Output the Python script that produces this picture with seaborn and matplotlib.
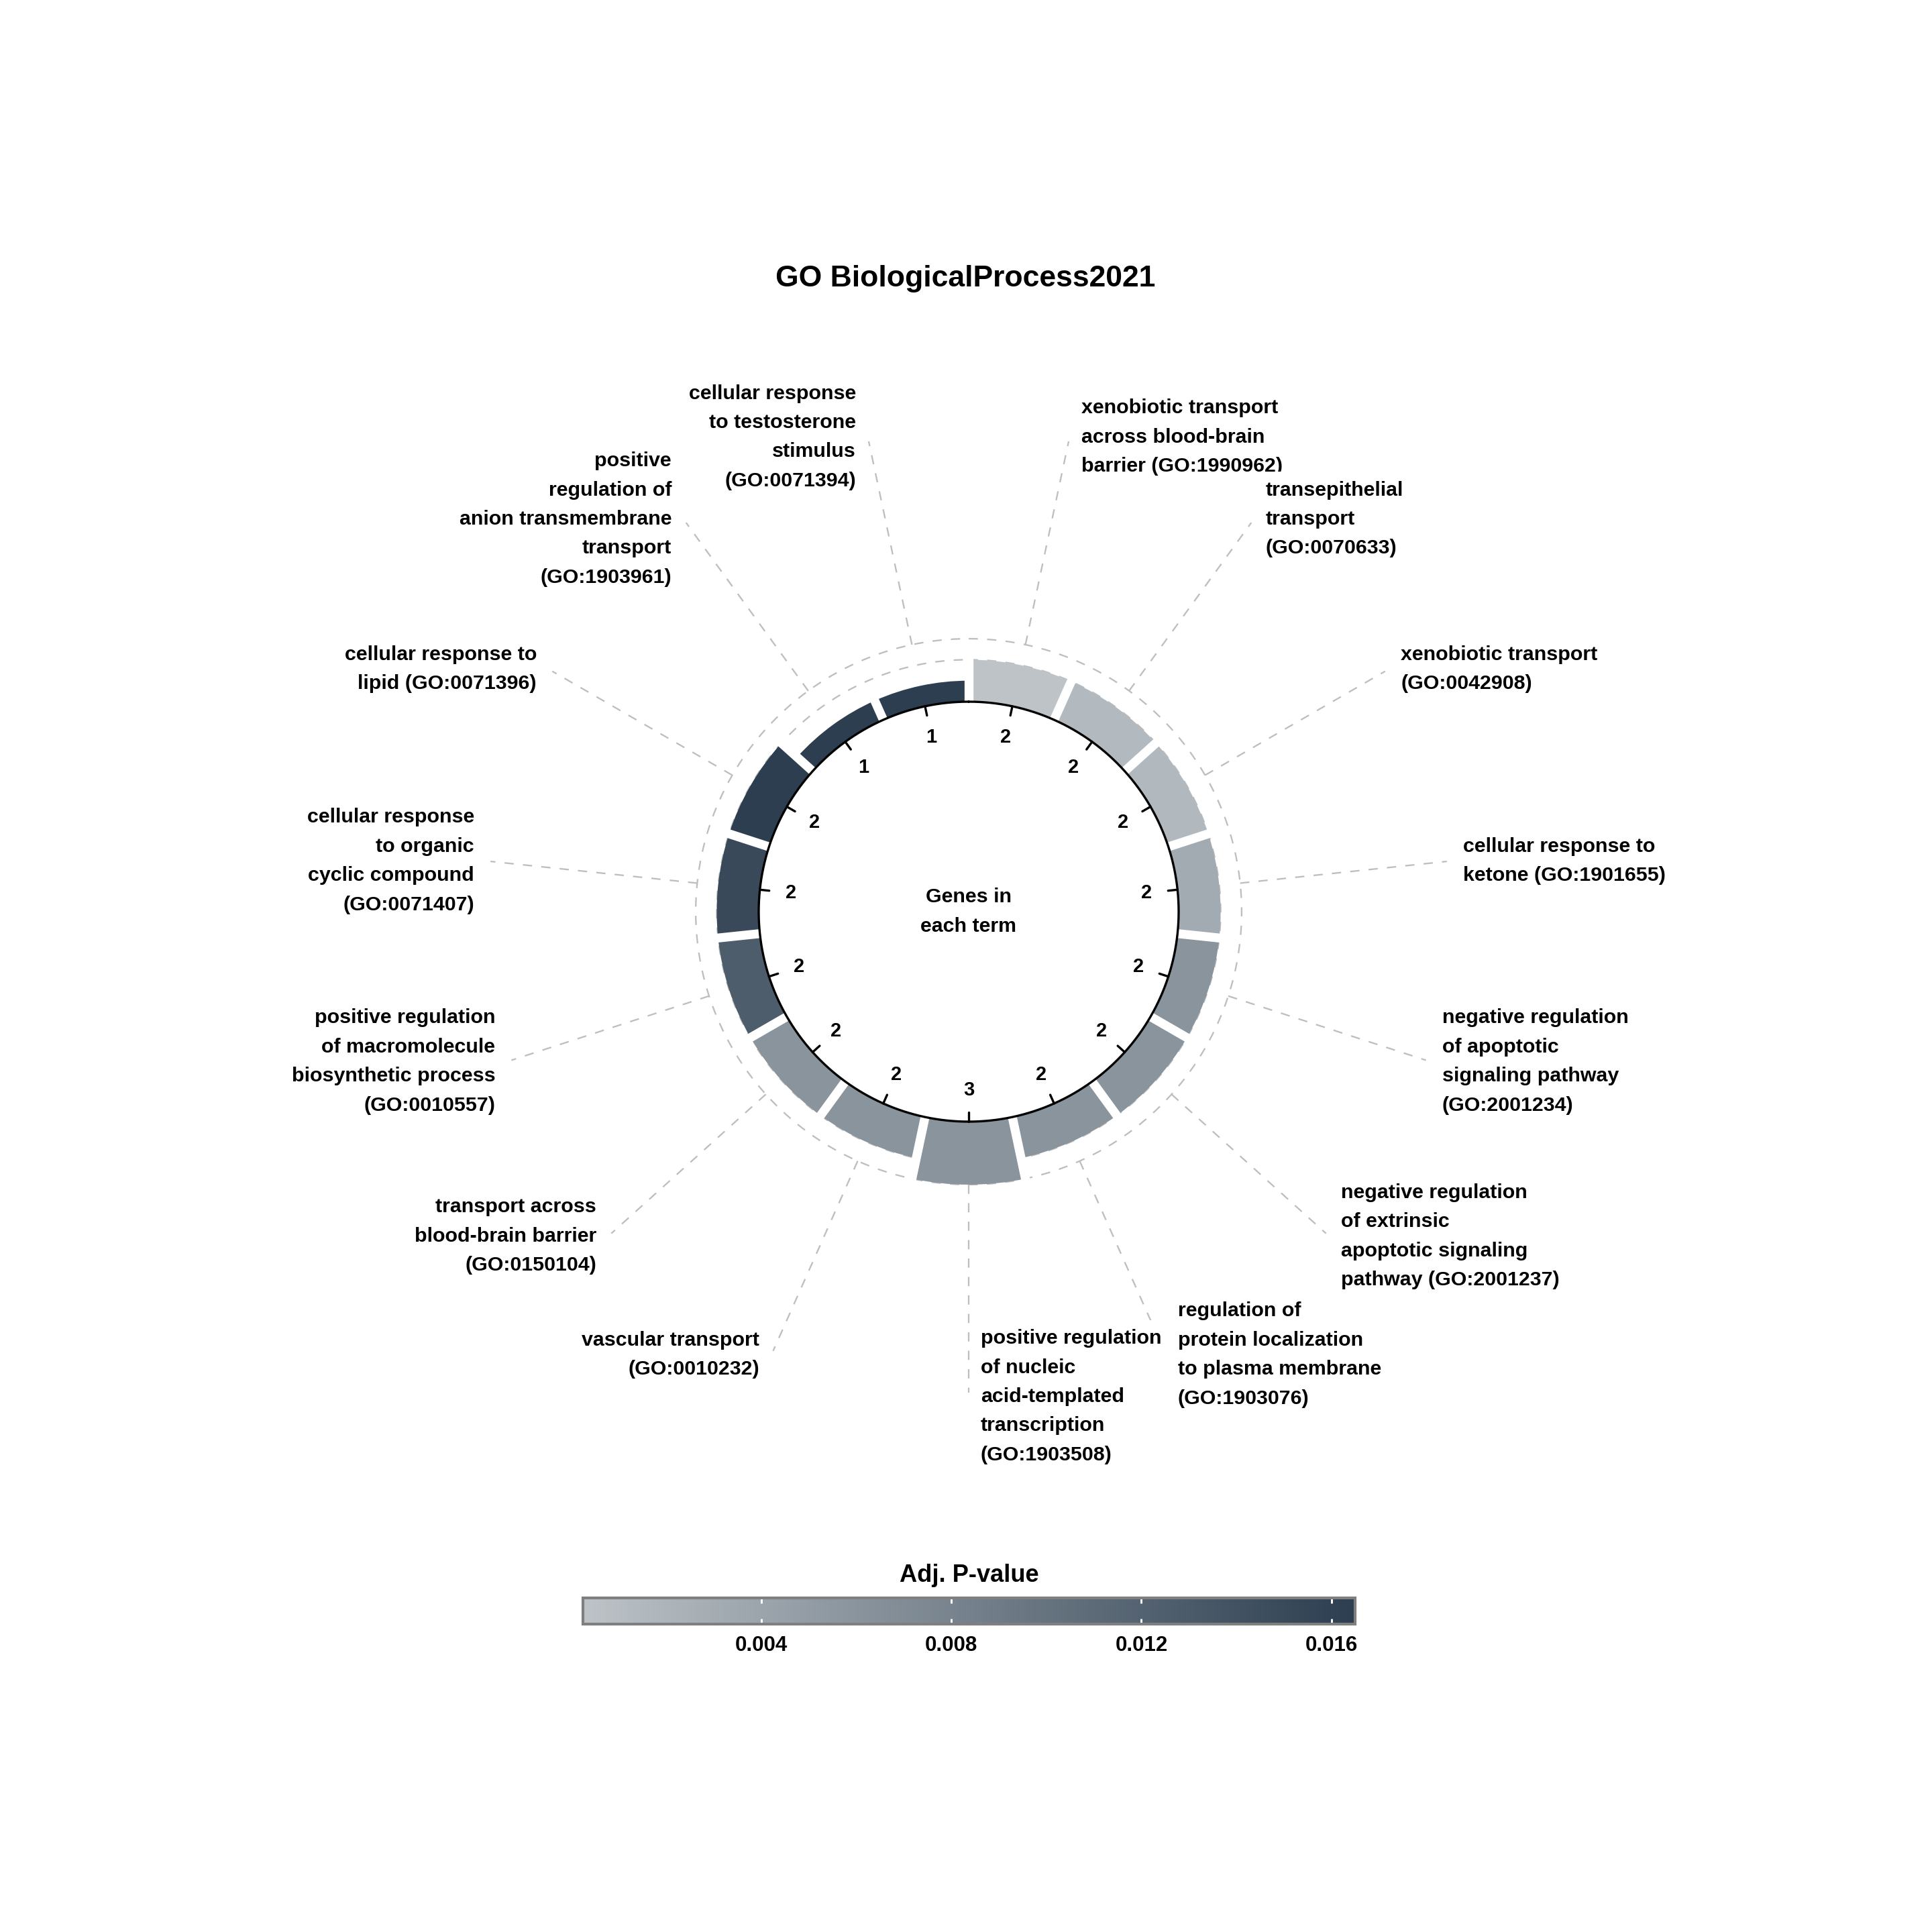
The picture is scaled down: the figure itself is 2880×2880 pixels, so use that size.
import numpy as np
import pandas as pd
import matplotlib
matplotlib.use("Agg")
import matplotlib.pyplot as plt
import matplotlib.transforms as mtransforms
import seaborn as sns

# terms clockwise from 12 o'clock
terms = [
    "xenobiotic transport\nacross blood-brain\nbarrier (GO:1990962)",
    "transepithelial\ntransport\n(GO:0070633)",
    "xenobiotic transport\n(GO:0042908)",
    "cellular response to\nketone (GO:1901655)",
    "negative regulation\nof apoptotic\nsignaling pathway\n(GO:2001234)",
    "negative regulation\nof extrinsic\napoptotic signaling\npathway (GO:2001237)",
    "regulation of\nprotein localization\nto plasma membrane\n(GO:1903076)",
    "positive regulation\nof nucleic\nacid-templated\ntranscription\n(GO:1903508)",
    "vascular transport\n(GO:0010232)",
    "transport across\nblood-brain barrier\n(GO:0150104)",
    "positive regulation\nof macromolecule\nbiosynthetic process\n(GO:0010557)",
    "cellular response\nto organic\ncyclic compound\n(GO:0071407)",
    "cellular response to\nlipid (GO:0071396)",
    "positive\nregulation of\nanion transmembrane\ntransport\n(GO:1903961)",
    "cellular response\nto testosterone\nstimulus\n(GO:0071394)",
]
gene_counts = [2, 2, 2, 2, 2, 2, 2, 3, 2, 2, 2, 2, 2, 1, 1]
adj_pvalues = [0.00024, 0.00135, 0.0015, 0.0032, 0.006, 0.006, 0.006, 0.006,
               0.006, 0.006, 0.0127, 0.0151, 0.0165, 0.0165, 0.0165]
cbar_ticks = [0.004, 0.008, 0.012, 0.016]
cbar_labels = ["0.004", "0.008", "0.012", "0.016"]

sns.set_theme(style="white")
plt.rcParams["font.family"] = ["Liberation Sans", "DejaVu Sans"]
plt.rcParams["font.weight"] = "bold"
plt.rcParams["text.color"] = "black"
plt.rcParams["xtick.color"] = "black"

cmap = sns.blend_palette(["#BDC3C7", "#2C3E50"], as_cmap=True)
norm = plt.Normalize(min(adj_pvalues), max(adj_pvalues))

df = pd.DataFrame({"term": terms, "genes": gene_counts, "padj": adj_pvalues})
n = len(df)
step = 2 * np.pi / n
df["theta"] = step * (np.arange(n) + 0.5)

W = 2880
fig = plt.figure(figsize=(9.6, 9.6), dpi=300)
R = 14
unit_px = 31.3
rad_px = R * unit_px
cx, cy = 1444, 1359
ax = fig.add_axes([(cx - rad_px) / W, (W - cy - rad_px) / W, 2 * rad_px / W, 2 * rad_px / W],
                  projection="polar")
ax.set_theta_zero_location("N")
ax.set_theta_direction(-1)
ax.set_ylim(0, R)
ax.set_axis_off()

base = 10
grey = "#BEBEBE"
dash = (0, (6, 6))
tt = np.linspace(0, 2 * np.pi, 721)
lsp = 1.7

# dashed grid rings
for lev in [2, 3]:
    ax.plot(tt, np.full_like(tt, base + lev), color=grey, lw=0.55, ls=dash, zorder=1, clip_on=False)

# bars
ax.bar(df["theta"], df["genes"], width=step, bottom=base,
       color=cmap(norm(df["padj"])), edgecolor="none", zorder=2)

# white separators between bars
for i in range(n):
    th = step * i
    top = base + max(gene_counts[i], gene_counts[i - 1]) + 0.2
    ax.plot([th, th], [base - 0.1, top], color="white", lw=3.2,
            solid_capstyle="butt", zorder=3, clip_on=False)

# inner circle, ticks and counts
ax.plot(tt, np.full_like(tt, base), color="black", lw=0.8, zorder=4)
for row in df.itertuples():
    ax.plot([row.theta, row.theta], [base - 0.45, base], color="black", lw=0.8, zorder=4)
    ax.text(row.theta, 8.5, str(row.genes), ha="center", va="center", fontsize=7, fontweight="bold")

ax.text(0, 0, "Genes in\neach term", ha="center", va="center", fontsize=7.3,
        fontweight="bold", linespacing=lsp)

# term labels with radial dashed leader lines (white label boxes sit on top)
label_r = 23.1
for row in df.itertuples():
    ax.plot([row.theta, row.theta], [base + 3, 22.9], color=grey, lw=0.55, ls=dash,
            zorder=5, clip_on=False)
for row in df.itertuples():
    deg = np.degrees(row.theta)
    right = deg < 180.5
    ha = "left" if right else "right"
    off = mtransforms.offset_copy(ax.transData, fig=fig, x=4.3 if right else -4.3, y=0, units="points")
    ax.text(row.theta, label_r, row.term, transform=off, ha=ha, va="center",
            multialignment=ha, fontsize=7.3, fontweight="bold", linespacing=lsp,
            bbox=dict(boxstyle="square,pad=0.45", fc="white", ec="none"),
            clip_on=False, zorder=6)

fig.text(1439 / W, 1 - 415 / W, "GO BiologicalProcess2021", ha="center", va="center",
         fontsize=10.7, fontweight="bold")

# colour bar
cax = fig.add_axes([869 / W, (W - 2421) / W, 1151 / W, 39 / W])
sm = plt.cm.ScalarMappable(norm=norm, cmap=cmap)
cb = fig.colorbar(sm, cax=cax, orientation="horizontal", ticks=cbar_ticks)
cb.outline.set_edgecolor("#7F7F7F")
cb.outline.set_linewidth(1.0)
cax.set_xticklabels(cbar_labels, fontweight="bold")
cax.tick_params(length=0, pad=4, labelsize=7.5)
xt = cax.get_xaxis_transform()
cax.vlines(cbar_ticks, 0, 0.2, transform=xt, colors="white", lw=0.7)
cax.vlines(cbar_ticks, 0.8, 1, transform=xt, colors="white", lw=0.7)
fig.text(1444.5 / W, 1 - 2349 / W, "Adj. P-value", ha="center", va="center",
         fontsize=8.7, fontweight="bold")

fig.savefig("out.png", dpi=300, facecolor="white")
